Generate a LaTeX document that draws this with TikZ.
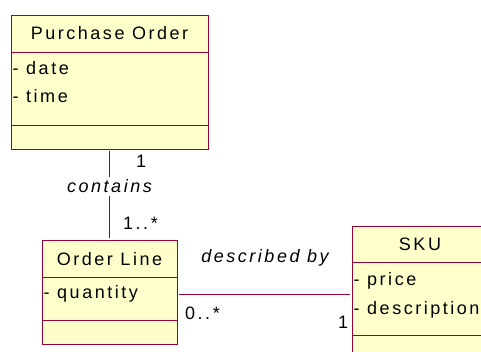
\documentclass[tikz,border=0pt]{standalone}
\usepackage{fontspec}
\setmainfont{Liberation Sans}[LetterSpace=14]
\usetikzlibrary{calc}
\definecolor{umlred}{RGB}{153,0,51}
\definecolor{umlyellow}{RGB}{255,255,204}
\tikzset{
  classbox/.style={draw=umlred,fill=umlyellow,line width=0.9pt,inner sep=0pt},
  assoc/.style={umlred,line width=0.9pt,shorten <=2pt,shorten >=2pt},
  umltext/.style={inner sep=0pt,font=\fontsize{18}{21}\selectfont},
  rolelabel/.style={umltext,font=\fontsize{18}{21}\selectfont\itshape}
}
\begin{document}
\begin{tikzpicture}[x=1pt,y=-1pt]
  \useasboundingbox (0,0) rectangle (481,352);
  \clip (0,0) rectangle (481,352);
  %% class boxes
  \node[classbox,minimum width=197pt,minimum height=134pt] (po) at (109.5,82) {};
  \node[classbox,minimum width=135pt,minimum height=104pt] (ol) at (109.5,292) {};
  \node[classbox,minimum width=136pt,minimum height=134pt] (sku) at (420,293) {};
  %% compartments
  \draw[umlred,line width=0.9pt] ($(po.north west)+(0,38)$) -- ($(po.north east)+(0,38)$);
  \draw[umlred,line width=0.9pt] ($(po.north west)+(0,111)$) -- ($(po.north east)+(0,111)$);
  \draw[umlred,line width=0.9pt] ($(ol.north west)+(0,38)$) -- ($(ol.north east)+(0,38)$);
  \draw[umlred,line width=0.9pt] ($(ol.north west)+(0,81)$) -- ($(ol.north east)+(0,81)$);
  \draw[umlred,line width=0.9pt] ($(sku.north west)+(0,37)$) -- ($(sku.north east)+(0,37)$);
  \draw[umlred,line width=0.9pt] ($(sku.north west)+(0,110)$) -- ($(sku.north east)+(0,110)$);
  %% names and attributes
  \node[umltext,anchor=base] (poname) at (109.5,39.3) {Purchase Order};
  \node[umltext,anchor=base west] (podate) at (12.5,75) {- date};
  \node[umltext,anchor=base west] (potime) at (12.5,103) {- time};
  \node[umltext,anchor=base] (olname) at (109.5,265.7) {Order Line};
  \node[umltext,anchor=base west] (olqty) at (43.5,298.5) {- quantity};
  \node[umltext,anchor=base] (skuname) at (420,250.7) {SKU};
  \node[umltext,anchor=base west] (skuprice) at (353.5,285) {- price};
  \node[umltext,anchor=base west] (skudesc) at (353.5,314) {- description};
  %% associations
  \draw[assoc] (po) -- (ol);
  \node[rolelabel,fill=white,inner ysep=3pt,anchor=base] (contains) at (109.5,192.7) {contains};
  \draw[assoc] ($(ol.east)+(0,2)$) -- ($(ol.east -| sku.west)+(0,2)$);
  \node[rolelabel,anchor=base] (descby) at (265,262.7) {described by};
  %% multiplicities
  \node[umltext,anchor=base west] (mpo) at (136,168) {1};
  \node[umltext,anchor=base west] (mol) at (123,230) {1..*};
  \node[umltext,anchor=base west] (mline) at (185,319) {0..*};
  \node[umltext,anchor=base west] (msku) at (338,328) {1};
\end{tikzpicture}
\end{document}
